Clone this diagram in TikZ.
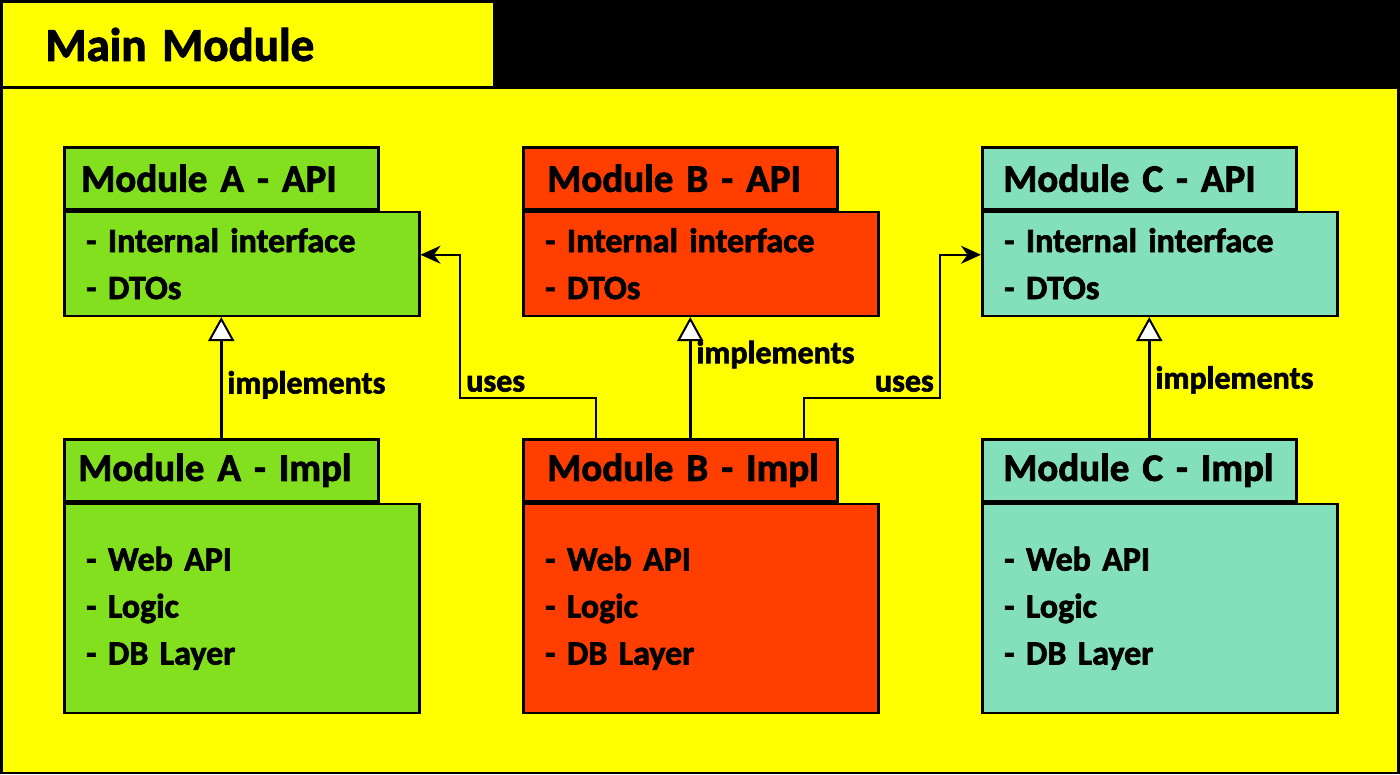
\documentclass[tikz,border=0pt]{standalone}
\usepackage{fontspec}
\setmainfont{Carlito}[WordSpace=0.75, BoldFeatures={FakeBold=2}]
\usetikzlibrary{arrows.meta}
\usetikzlibrary{calc}
\usepackage{xcolor}
\definecolor{mainyellow}{RGB}{255,255,0}
\definecolor{modgreen}{RGB}{130,224,30}
\definecolor{modred}{RGB}{255,62,0}
\definecolor{modteal}{RGB}{132,223,187}

\begin{document}
\begin{tikzpicture}[x=1pt, y=-1pt]
        % ================= styles =================
        \tikzset{
            % outer package: yellow with thin border
            maintab/.style={draw=black, line width=1pt, fill=mainyellow, anchor=north west, align=left,
                text width=405pt, inner xsep=43pt, inner ysep=0pt, minimum height=84pt,
                font=\fontsize{47}{56}\selectfont\bfseries},
            mainbody/.style={draw=black, line width=1pt, fill=mainyellow, anchor=north west,
                minimum width=1395pt, minimum height=684pt, inner sep=0pt},
            % module tab and module body
            tabbox/.style={draw=black, line width=2.5pt, anchor=north west, align=left,
                text width=290pt, inner xsep=12pt, inner ysep=0pt, minimum height=62pt,
                font=\fontsize{39}{46}\selectfont\bfseries},
            bodybox/.style={draw=black, line width=2.5pt, anchor=north west, align=left,
                text width=311pt, inner xsep=22pt, inner ysep=0pt,
                font=\fontsize{34}{47}\selectfont\bfseries},
            apibody/.style={bodybox, minimum height=104pt},
            implbody/.style={bodybox, minimum height=209pt},
            % connector styles
            implarrow/.style={line width=2.5pt, black, -{Triangle[fill=white, length=24pt, width=26pt, line width=2pt]}},
            usesarrow/.style={line width=2.5pt, black, -{Stealth[length=20pt, width=18pt]}},
            lbl/.style={font=\fontsize{32}{38}\selectfont\bfseries, inner sep=5pt}
        }

        % ================= 0. background =================
        \fill[black] (0,0) rectangle (1400,774);
        \useasboundingbox (0,0) rectangle (1400,774);

        \node[maintab] (mainTab) at (2,2) {Main Module};
        \node[mainbody] (mainBody) at (2,88) {};

        % ================= 1. API modules (top row) =================
        \node[tabbox, fill=modgreen] (apiAtab) at (63,146) {\hspace{5pt}Module A - API};
        \node[apibody, fill=modgreen] (apiAbody) at (apiAtab.south west) {- Internal interface\\- DTOs};

        \node[tabbox, fill=modred] (apiBtab) at (522,146) {\hspace{12pt}Module B - API};
        \node[apibody, fill=modred] (apiBbody) at (apiBtab.south west) {- Internal interface\\- DTOs};

        \node[tabbox, fill=modteal] (apiCtab) at (981,146) {\hspace{9pt}Module C - API};
        \node[apibody, fill=modteal] (apiCbody) at (apiCtab.south west) {- Internal interface\\- DTOs};

        % ================= 2. Impl modules (bottom row) =================
        \node[tabbox, fill=modgreen] (implAtab) at (63,438) {\hspace{2pt}Module A - Impl};
        \node[implbody, fill=modgreen] (implAbody) at (implAtab.south west) {- Web API\\- Logic\\- DB Layer};

        \node[tabbox, fill=modred] (implBtab) at (522,438) {\hspace{12pt}Module B - Impl};
        \node[implbody, fill=modred] (implBbody) at (implBtab.south west) {- Web API\\- Logic\\- DB Layer};

        \node[tabbox, fill=modteal] (implCtab) at (981,438) {\hspace{9pt}Module C - Impl};
        \node[implbody, fill=modteal] (implCbody) at (implCtab.south west) {- Web API\\- Logic\\- DB Layer};

        % ================= 3. implements =================
        \coordinate (implBfoot) at ([xshift=10pt]implBtab.north);
        \coordinate (implCfoot) at ([xshift=10pt]implCtab.north);

        \draw[implarrow] (implAtab.north) -- (implAtab.north |- apiAbody.south)
            node[lbl, pos=0.44, right] {implements};
        \draw[implarrow] (implBfoot) -- (implBfoot |- apiBbody.south)
            node[lbl, pos=0.69, right] {implements};
        \draw[implarrow] (implCfoot) -- (implCfoot |- apiCbody.south)
            node[lbl, pos=0.48, right] {implements};

        % ================= 4. uses =================
        % B impl reaches out to the A and C APIs
        \coordinate (usesBleft) at ([xshift=74pt]implBtab.north west);
        \coordinate (usesBright) at ([xshift=282pt]implBtab.north west);
        \coordinate (usesLcorner) at (460,398);
        \coordinate (usesRcorner) at (940,398);

        \draw[usesarrow] (usesBleft) |- (usesLcorner) node[lbl, above right] {uses}
            |- ([yshift=9pt]apiAbody.east);
        \draw[usesarrow] (usesBright) |- (usesRcorner) node[lbl, above left] {uses}
            |- ([yshift=9pt]apiCbody.west);

    \end{tikzpicture}
\end{document}
